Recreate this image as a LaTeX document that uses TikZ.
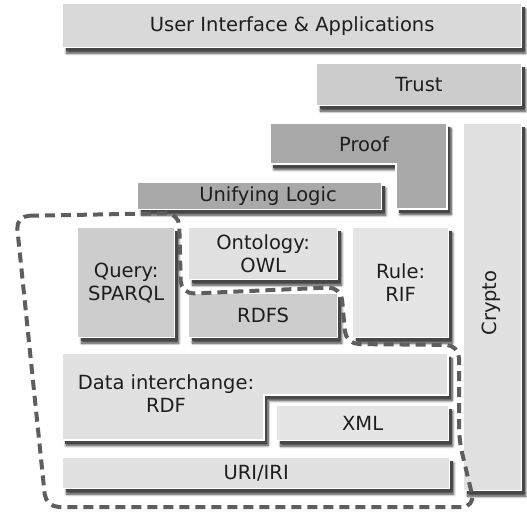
\documentclass[tikz,border=0pt]{standalone}
\usepackage{fontspec}
\setmainfont{DejaVu Sans}
\usetikzlibrary{shadows,shadows.blur}
\definecolor{cUI}{HTML}{D9D9D9}
\definecolor{cTrust}{HTML}{CCCCCC}
\definecolor{cDark}{HTML}{A9A9A9}
\definecolor{cLight}{HTML}{E1E1E1}
\definecolor{cMid}{HTML}{CDCDCD}
\definecolor{cPale}{HTML}{E5E5E5}
\definecolor{cText}{HTML}{1E1E1E}
\definecolor{cDash}{HTML}{5E5E5E}
\tikzset{
  layer/.style={draw=white, line width=1.3pt,
    blur shadow={shadow xshift=4pt, shadow yshift=-5.5pt, shadow blur radius=2.5pt, shadow blur steps=8, shadow opacity=80},
    general shadow={shadow xshift=3pt, shadow yshift=-3.8pt, fill=black!72}},
  boxnode/.style={layer, rectangle, inner sep=0pt, anchor=north west, align=center,
    text=cText, font=\fontsize{19.5}{23}\selectfont},
  lbl/.style={inner sep=0pt, align=center, text=cText, font=\fontsize{19.5}{23}\selectfont},
  dashline/.style={draw=cDash, line width=4pt, dash pattern=on 10pt off 6pt, rounded corners=13pt}
}
\begin{document}
\begin{tikzpicture}[x=1pt,y=-1pt]
\useasboundingbox (0,0) rectangle (527,511);
% top layers
\node[boxnode, fill=cUI, minimum width=459pt, minimum height=44pt] (ui) at (62,3) {User Interface \& Applications};
\node[boxnode, fill=cTrust, minimum width=205pt, minimum height=42pt] (trust) at (316,63) {};
\node[lbl] (trustt) at (419,85) {Trust};
% proof L-shape
\path[layer, fill=cDark] (270,123) -- (447,123) -- (447,209) -- (396,209) -- (396,164) -- (270,164) -- cycle;
\node[lbl] (proof) at (364,144) {Proof};
% crypto
\node[boxnode, fill=cLight, minimum width=58pt, minimum height=367pt] (crypto) at (463,123) {};
\node[lbl, rotate=90] (cryptot) at (491,303) {Crypto};
% unifying logic
\node[boxnode, fill=cDark, minimum width=244pt, minimum height=27pt] (logic) at (137,182) {};
\node[lbl] (logict) at (268,196) {Unifying Logic};
% middle
\node[boxnode, fill=cMid, minimum width=97pt, minimum height=110pt] (query) at (77,227) {Query:\\SPARQL};
\node[boxnode, fill=cLight, minimum width=149pt, minimum height=52pt] (owl) at (188,227) {Ontology:\\OWL};
\node[boxnode, fill=cMid, minimum width=149pt, minimum height=44pt] (rdfs) at (188,293) {RDFS};
\node[boxnode, fill=cPale, minimum width=96pt, minimum height=110pt] (rule) at (352,227) {Rule:\\RIF};
% data interchange L-shape
\path[layer, fill=cLight] (62,353) -- (448,353) -- (448,395) -- (264,395) -- (264,440) -- (62,440) -- cycle;
\node[lbl] (rdf) at (166,394) {Data interchange:\\RDF};
\node[boxnode, fill=cPale, minimum width=172pt, minimum height=35pt] (xml) at (276,405) {XML};
\node[boxnode, fill=cLight, minimum width=387pt, minimum height=31pt] (uri) at (62,457) {URI/IRI};
% dashed boundary
\draw[dashline] (16,216) -- (179,213) -- (181,294) -- (341,287) -- (346,344) -- (459,345)
  -- (459,440) -- (475,507) -- (46,507) -- cycle;
\end{tikzpicture}
\end{document}
